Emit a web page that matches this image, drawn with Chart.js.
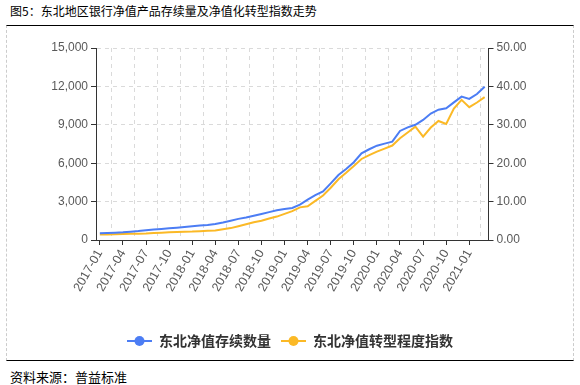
<!DOCTYPE html>
<html>
<head>
<meta charset="utf-8">
<script src="https://cdn.jsdelivr.net/npm/chart.js@4/dist/chart.umd.min.js"></script>
<style>
  body { margin: 0; width: 580px; height: 385px; background: #fff; position: relative; overflow: hidden; font-family: "Noto Sans CJK SC", sans-serif; }
  #title { position: absolute; left: 10px; top: 3px; font-size: 12px; line-height: 16px; color: #000; white-space: nowrap; }
  #frame { position: absolute; left: 6px; top: 25px; width: 566px; height: 334px; border-top: 1.5px solid #000; border-bottom: 1.5px solid #000; border-left: 1px dashed #ccc; border-right: 1px dashed #ccc; }
  #chart { position: absolute; left: 0; top: 26px; }
  #source { position: absolute; left: 10px; top: 368px; font-size: 13px; line-height: 17px; color: #000; white-space: nowrap; }
</style>
</head>
<body>
<div id="title">图5：东北地区银行净值产品存续量及净值化转型指数走势</div>
<div id="frame"></div>
<canvas id="chart" width="580" height="334"></canvas>
<div id="source">资料来源：普益标准</div>
<script>
const months = [
    '2017-01', '2017-02', '2017-03', '2017-04', '2017-05', '2017-06', '2017-07', '2017-08', '2017-09', '2017-10', '2017-11', '2017-12',
    '2018-01', '2018-02', '2018-03', '2018-04', '2018-05', '2018-06', '2018-07', '2018-08', '2018-09', '2018-10', '2018-11', '2018-12',
    '2019-01', '2019-02', '2019-03', '2019-04', '2019-05', '2019-06', '2019-07', '2019-08', '2019-09', '2019-10', '2019-11', '2019-12',
    '2020-01', '2020-02', '2020-03', '2020-04', '2020-05', '2020-06', '2020-07', '2020-08', '2020-09', '2020-10', '2020-11', '2020-12',
    '2021-01', '2021-02', '2021-03'
];

// 东北净值存续数量 (left axis)
const stockCount = [
    520, 540, 570, 600, 650, 700, 770, 820, 860, 910, 960, 1020,
    1070, 1130, 1170, 1250, 1370, 1510, 1650, 1760, 1890, 2030, 2180, 2320,
    2420, 2500, 2760, 3150, 3500, 3800, 4420, 5080, 5550, 6080, 6770, 7090,
    7370, 7530, 7680, 8520, 8800, 9000, 9380, 9880, 10180, 10290, 10750, 11200,
    11020, 11400, 11980
];

// 东北净值转型程度指数 (right axis)
const transIndex = [
    1.4, 1.4, 1.5, 1.55, 1.6, 1.65, 1.7, 1.8, 1.9, 2.0, 2.1, 2.15,
    2.2, 2.3, 2.4, 2.5, 2.8, 3.1, 3.6, 4.1, 4.6, 5.0, 5.6, 6.1,
    6.8, 7.5, 8.5, 8.8, 10.2, 11.6, 13.6, 15.8, 17.5, 19.3, 21.1, 22.1,
    23.0, 23.8, 24.6, 26.5, 28.0, 29.5, 26.9, 29.3, 31.0, 30.2, 34.2, 36.5,
    34.6, 35.8, 37.2
];

const leftTicks = [0, 3000, 6000, 9000, 12000, 15000];
const rightTicks = [0, 10, 20, 30, 40, 50];

const blue = '#4c7df4';
const yellow = '#fbb926';
const gridColor = '#dadada';
const axisColor = '#333';
const tickFont = { family: '"Liberation Sans", Arial, sans-serif', size: 12 };
const tickText = '#595959';
const hidden = 'rgba(0,0,0,0)';

function legendMarker(color) {
    const c = document.createElement('canvas');
    c.width = 25;
    c.height = 12;
    const g = c.getContext('2d');
    g.strokeStyle = color;
    g.lineWidth = 2;
    g.beginPath();
    g.moveTo(0, 6);
    g.lineTo(25, 6);
    g.stroke();
    g.fillStyle = color;
    g.beginPath();
    g.arc(12.5, 6, 5, 0, Math.PI * 2);
    g.fill();
    return c;
}
const markers = [legendMarker(blue), legendMarker(yellow)];

new Chart(document.getElementById('chart').getContext('2d'), {
    type: 'line',
    data: {
        labels: months,
        datasets: [
            {
                label: '东北净值存续数量',
                data: stockCount,
                borderColor: blue,
                backgroundColor: blue,
                borderWidth: 2,
                pointRadius: 0,
                tension: 0,
                yAxisID: 'y'
            },
            {
                label: '东北净值转型程度指数',
                data: transIndex,
                borderColor: yellow,
                backgroundColor: yellow,
                borderWidth: 2,
                pointRadius: 0,
                tension: 0,
                yAxisID: 'y1'
            }
        ]
    },
    options: {
        responsive: false,
        maintainAspectRatio: false,
        animation: false,
        devicePixelRatio: 1,
        layout: { padding: { top: 22, bottom: 2, left: 0, right: 0 } },
        scales: {
            x: {
                type: 'category',
                position: 'bottom',
                offset: true,
                grid: {
                    offset: false,
                    drawOnChartArea: false,
                    tickLength: 5,
                    tickColor: ctx => (ctx.index % 3 === 0 ? axisColor : hidden)
                },
                border: { color: axisColor, width: 1 },
                ticks: {
                    autoSkip: false,
                    minRotation: 60,
                    maxRotation: 60,
                    padding: 2,
                    color: tickText,
                    font: { family: tickFont.family, size: 12.5 },
                    callback: function (v, i) { return i % 3 === 0 ? months[i] : ''; }
                },
                afterFit: s => { s.height = 84; }
            },
            x2: {
                type: 'category',
                position: 'top',
                offset: true,
                grid: {
                    offset: true,
                    drawTicks: false,
                    color: ctx => (ctx.index % 3 === 2 ? gridColor : hidden)
                },
                border: { display: false, dash: [4, 4] },
                ticks: { display: false },
                afterFit: s => { s.height = 0; }
            },
            y: {
                position: 'left',
                min: 0,
                max: 15000,
                afterBuildTicks: s => { s.ticks = leftTicks.map(v => ({ value: v })); },
                grid: { color: gridColor, tickLength: 5, tickColor: axisColor },
                border: { color: axisColor, dash: [4, 4] },
                ticks: {
                    padding: 3,
                    color: tickText,
                    font: tickFont,
                    callback: v => v.toLocaleString('en-US')
                },
                afterFit: s => { s.width = 96; }
            },
            y1: {
                position: 'right',
                min: 0,
                max: 50,
                afterBuildTicks: s => { s.ticks = rightTicks.map(v => ({ value: v })); },
                grid: { drawOnChartArea: false, tickLength: 5, tickColor: axisColor },
                border: { color: axisColor },
                ticks: {
                    padding: 3,
                    color: tickText,
                    font: tickFont,
                    callback: v => v.toFixed(2)
                },
                afterFit: s => { s.width = 91.5; }
            }
        },
        plugins: {
            legend: {
                position: 'bottom',
                labels: {
                    usePointStyle: true,
                    pointStyleWidth: 25,
                    padding: 10,
                    color: '#333',
                    font: { family: '"Noto Sans CJK SC", sans-serif', size: 14, weight: 'bold' },
                    generateLabels: chart => Chart.defaults.plugins.legend.labels.generateLabels(chart).map((item, i) => {
                        item.pointStyle = markers[i];
                        return item;
                    })
                }
            },
            tooltip: { enabled: false }
        }
    }
});
</script>
</body>
</html>
